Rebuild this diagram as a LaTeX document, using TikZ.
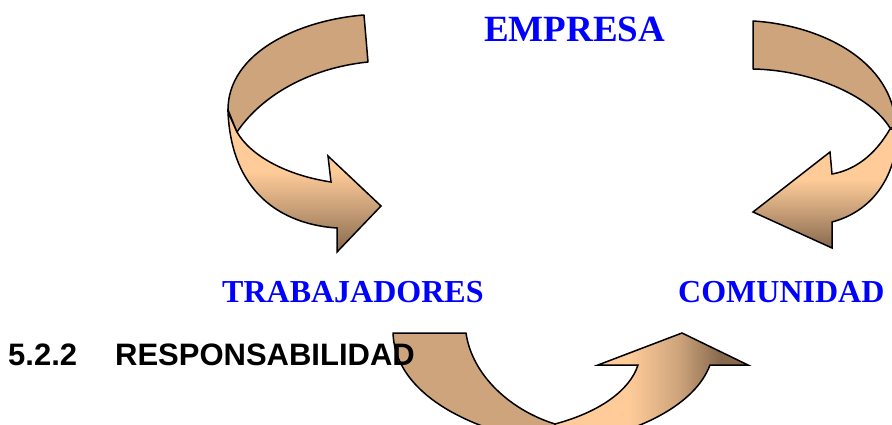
\documentclass[tikz,border=0pt]{standalone}
\usepackage{fontspec}
\setmainfont{Liberation Serif}
\newfontfamily\arialb{Liberation Sans}
\usetikzlibrary{arrows}
\definecolor{cuero}{RGB}{206,164,124}
\definecolor{durazno}{RGB}{255,204,153}
\definecolor{cafe}{RGB}{135,105,78}
\definecolor{azul}{RGB}{0,0,255}
\pgfdeclareverticalshading{bajada}{100bp}{color(0bp)=(cafe); color(25bp)=(cafe); color(42bp)=(cuero); color(54bp)=(durazno); color(100bp)=(durazno)}
\pgfdeclarehorizontalshading{subida}{100bp}{color(0bp)=(durazno); color(25bp)=(durazno); color(44bp)=(durazno); color(57bp)=(cuero); color(68bp)=(cafe); color(100bp)=(cafe)}

\begin{document}
\begin{tikzpicture}[x=1pt,y=-1pt]
	\tikzstyle{cinta}=[draw=black,line width=1.5pt,line join=round,fill=cuero]
	\tikzstyle{vuelta}=[draw=black,line width=1.5pt,line join=miter,shading=bajada]
	\tikzstyle{giro}=[draw=black,line width=1.5pt,line join=miter,shading=subida]
	\tikzstyle{actor}=[text=azul,font=\fontsize{32}{36}\selectfont\bfseries,anchor=base west,inner sep=0pt]
	\useasboundingbox (0,0) rectangle (892,425);
	\clip (0,0) rectangle (892,425);
	% flecha izquierda
	\draw[vuelta] (228,112) .. controls (232,200) and (290,225) .. (337,228) -- (337,252) -- (381,206) -- (328,156) -- (331,182)
		.. controls (285,175) and (250,155) .. (237,132) -- cycle;
	\draw[cinta] (364,15) .. controls (300,20) and (228,52) .. (228,110) -- (237,132)
		.. controls (262,95) and (310,68) .. (368,62) -- cycle;
	% flecha derecha
	\draw[vuelta] (890,129) .. controls (875,155) and (855,170) .. (832,174) -- (830,152) -- (753,212) -- (832,248) -- (832,222)
		.. controls (870,212) and (896,180) .. (898,130) -- cycle;
	\draw[cinta] (753,21) .. controls (820,25) and (893,60) .. (896,127) -- (890,128)
		.. controls (870,95) and (810,70) .. (753,69) -- cycle;
	% flecha de abajo
	\draw[cinta] (393,333) -- (466,333) .. controls (472,375) and (510,410) .. (555,424) -- (555,440) -- (530,440)
		.. controls (460,425) and (395,390) .. (393,333) -- cycle;
	\draw[giro] (555,424) .. controls (600,412) and (630,390) .. (638,365) -- (598,365) -- (682,333) -- (748,365) -- (710,365)
		.. controls (695,405) and (640,430) .. (590,440) -- (555,440) -- cycle;
	% textos
	\node[actor,font=\fontsize{37}{40}\selectfont\bfseries] (empresa) at (484,42) {EMPRESA};
	\node[actor] (trab) at (222,302) {TRABAJADORES};
	\node[actor] (comu) at (678,302) {COMUNIDAD};
	\node[anchor=base west,inner sep=0pt,font=\arialb\fontsize{31}{34}\selectfont\bfseries] (titulo) at (8,365) {5.2.2\hspace*{38pt}RESPONSABILIDAD};
\end{tikzpicture}
\end{document}
